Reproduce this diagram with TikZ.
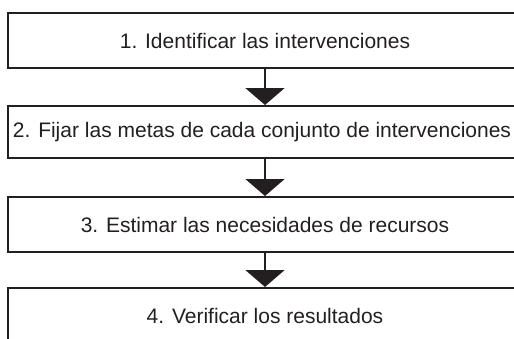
\documentclass[tikz,border=0pt]{standalone}
\usepackage{fontspec}
\setmainfont{Liberation Sans}
\usetikzlibrary{arrows.meta}
\definecolor{ink}{HTML}{231F20}
\begin{document}
\begin{tikzpicture}[x=1pt,y=-1pt,
  stepbox/.style={draw=ink,line width=2pt,minimum width=514pt,inner sep=0pt,
    text=ink,font=\fontsize{21pt}{24pt}\selectfont},
  flow/.style={draw=ink,line width=2pt,-{Triangle[width=39pt,length=17pt]},fill=ink}]
\useasboundingbox (0,0) rectangle (514,338);
\clip (0,0) rectangle (514,338);
\node[stepbox,minimum height=55pt] (b1) at (265,40.5) {1. Identificar las intervenciones};
\node[stepbox,minimum height=52pt] (b2) at (265,132) {\hspace*{-6pt}2. Fijar las metas de cada conjunto de intervenciones};
\node[stepbox,minimum height=55pt] (b3) at (265,224.5) {3. Estimar las necesidades de recursos};
\node[stepbox,minimum height=55pt] (b4) at (265,315.5) {4. Verificar los resultados};
\draw[flow] (b1.south) -- (b2.north);
\draw[flow] (b2.south) -- (b3.north);
\draw[flow] (b3.south) -- (b4.north);
\end{tikzpicture}
\end{document}
